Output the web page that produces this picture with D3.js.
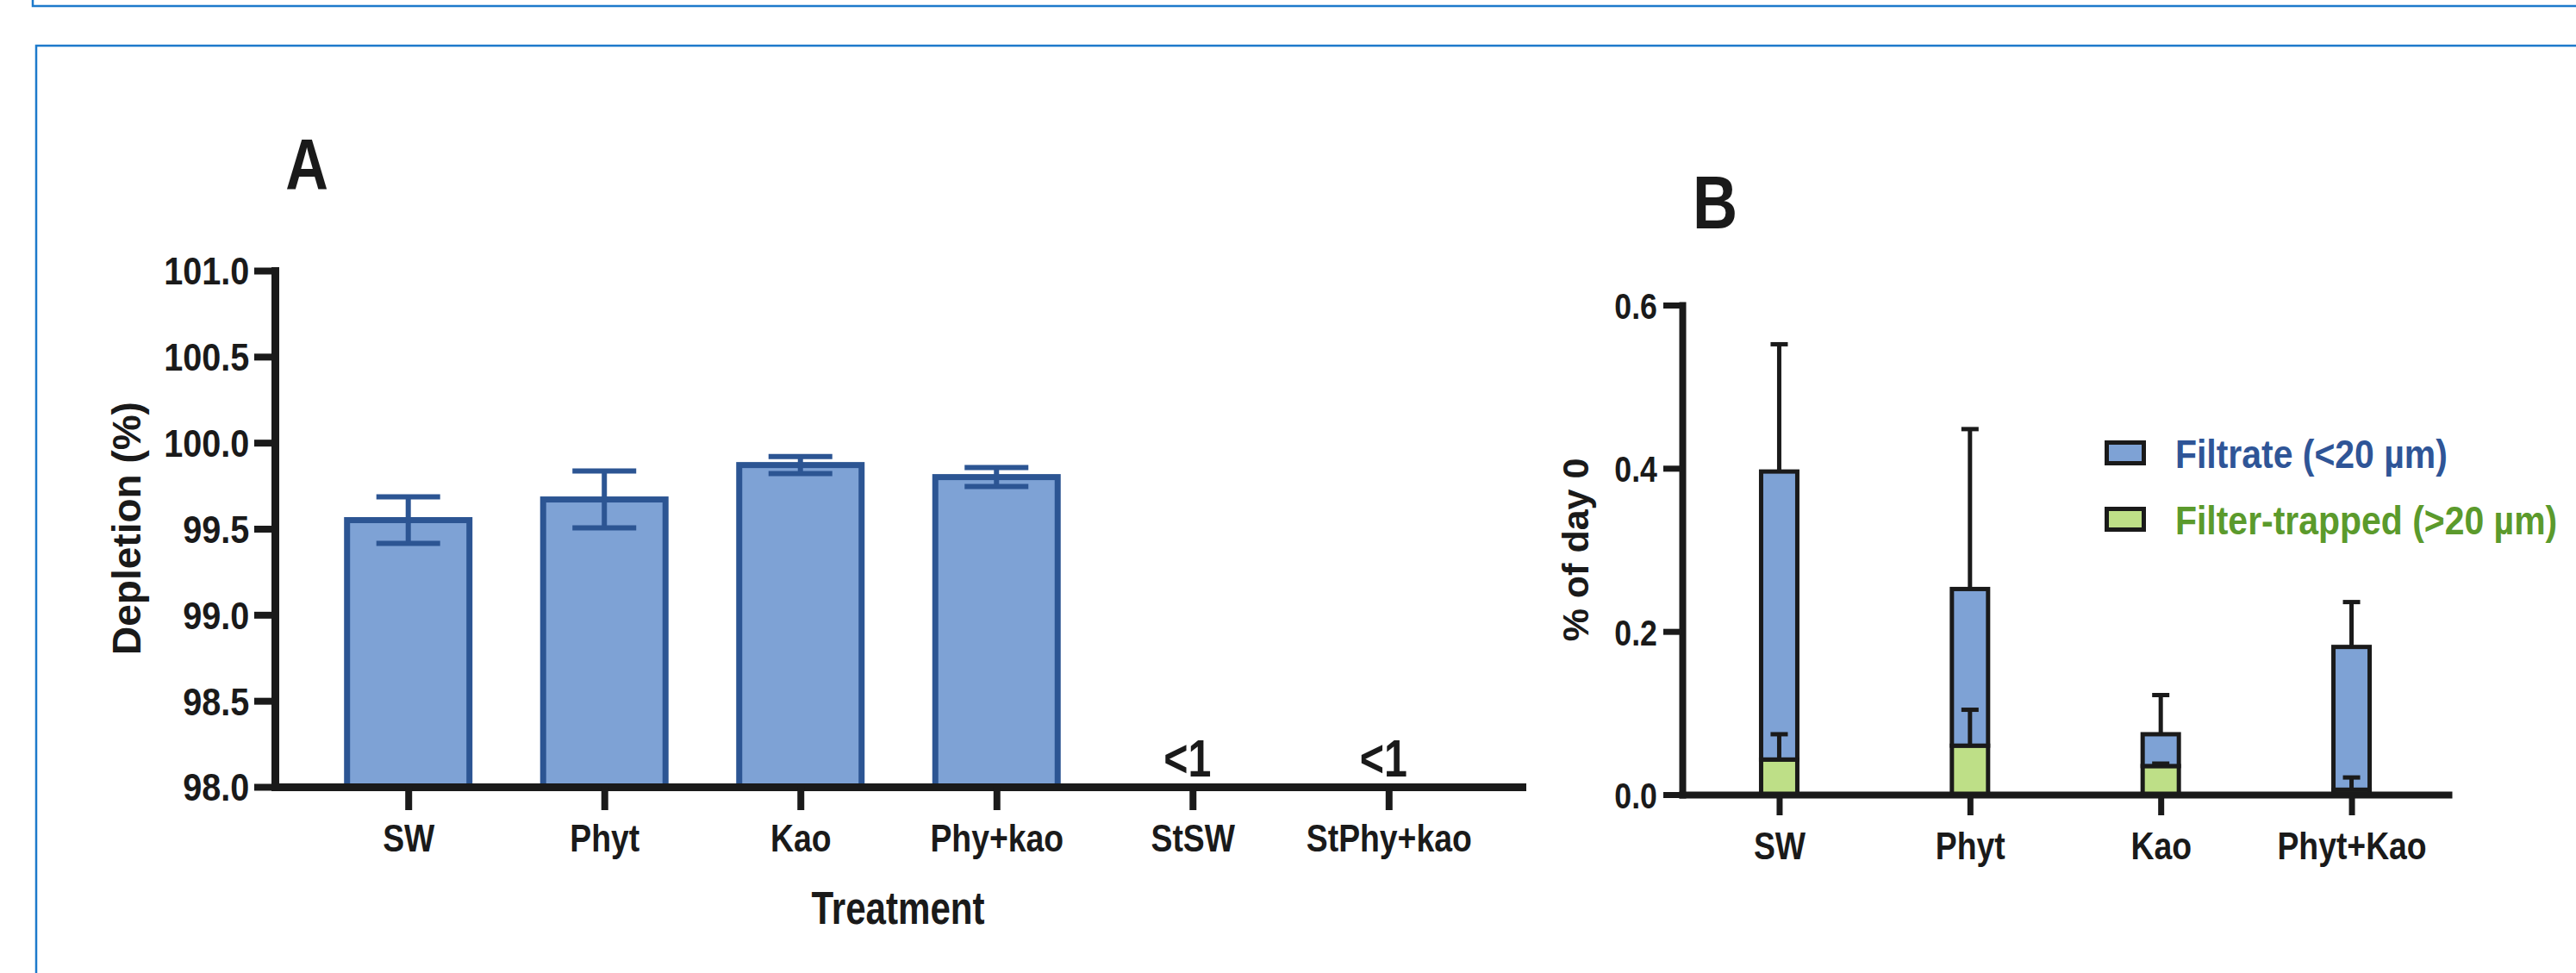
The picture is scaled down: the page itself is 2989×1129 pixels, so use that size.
<!DOCTYPE html>
<meta charset="utf-8">
<style>
    body {
        margin: 0;
        background: #fff;
    }

    svg {
        display: block;
        font-family: "Liberation Sans", Arial, sans-serif;
        font-weight: bold;
    }

    .frame {
        fill: none;
        stroke: #1d7acb;
        stroke-width: 2.5;
    }

    .axis path,
    .axis line {
        stroke: #1a1a1a;
    }

    .axis text,
    .label {
        fill: #1a1a1a;
    }
</style>

<body>
    <script src="https://d3js.org/d3.v7.min.js"></script>
    <script>
        // Panel A: depletion per treatment
        var treatA = ["SW", "Phyt", "Kao", "Phy+kao", "StSW", "StPhy+kao"];
        var depletion = [99.55, 99.67, 99.87, 99.80, null, null];
        var depletionSD = [0.135, 0.165, 0.05, 0.055, null, null];
        var belowLimit = ["", "", "", "", "<1", "<1"];
        var ticksA = [98.0, 98.5, 99.0, 99.5, 100.0, 100.5, 101.0];

        // Panel B: % of day 0, stacked
        var treatB = ["SW", "Phyt", "Kao", "Phyt+Kao"];
        var filterTrapped = [0.043, 0.060, 0.035, 0.006];
        var filterTrappedSD = [0.031, 0.044, 0.003, 0.015];
        var filtrate = [0.353, 0.192, 0.039, 0.175];
        var filtrateSD = [0.156, 0.196, 0.048, 0.055];
        var ticksB = [0.0, 0.2, 0.4, 0.6];
        var seriesB = ["Filtrate (<20 µm)", "Filter-trapped (>20 µm)"];

        var blueFill = "#7ea2d5",
            greenFill = "#bedf87",
            navy = "#2c5593",
            ink = "#1a1a1a";

        var svg = d3.select("body").append("svg")
            .attr("width", 2989)
            .attr("height", 1129);

        // blue frame lines
        svg.append("path").attr("class", "frame")
            .attr("d", "M38,0V7H2989");
        svg.append("path").attr("class", "frame")
            .attr("d", "M42,1129V53H2989");

        /* ---------------- */
        /* Panel A          */
        /* ---------------- */
        var xA = d3.scalePoint().domain(treatA).range([319, 1766]).padding(0.68);
        var yA = d3.scaleLinear().domain([98, 101]).range([913, 314]);
        var barWA = 142;

        var rowsA = treatA.map(function (t, i) {
            return { name: t, v: depletion[i], sd: depletionSD[i], note: belowLimit[i] };
        });

        var gA = svg.append("g");

        gA.selectAll("rect.bar")
            .data(rowsA.filter(d => d.v != null))
            .enter().append("rect")
            .attr("class", "bar")
            .attr("x", d => xA(d.name) - barWA / 2)
            .attr("width", barWA)
            .attr("y", d => yA(d.v))
            .attr("height", d => yA(98) - yA(d.v))
            .attr("fill", blueFill)
            .attr("stroke", navy)
            .attr("stroke-width", 7);

        var errA = gA.selectAll("g.err")
            .data(rowsA.filter(d => d.v != null))
            .enter().append("g")
            .attr("stroke", navy)
            .attr("stroke-width", 6);
        errA.append("line")
            .attr("x1", d => xA(d.name)).attr("x2", d => xA(d.name))
            .attr("y1", d => yA(d.v - d.sd)).attr("y2", d => yA(d.v + d.sd));
        errA.append("line")
            .attr("x1", d => xA(d.name) - 37).attr("x2", d => xA(d.name) + 37)
            .attr("y1", d => yA(d.v + d.sd)).attr("y2", d => yA(d.v + d.sd));
        errA.append("line")
            .attr("x1", d => xA(d.name) - 37).attr("x2", d => xA(d.name) + 37)
            .attr("y1", d => yA(d.v - d.sd)).attr("y2", d => yA(d.v - d.sd));

        // "<1" notes
        gA.selectAll("text.note")
            .data(rowsA.filter(d => d.note))
            .enter().append("text")
            .attr("class", "label")
            .attr("text-anchor", "middle")
            .attr("font-size", 62)
            .attr("transform", d => "translate(" + (xA(d.name) - 6) + ",901) scale(0.78,1)")
            .text(d => d.note);

        // axes A
        var yAxisA = gA.append("g").attr("class", "axis")
            .attr("transform", "translate(319,0)")
            .call(d3.axisLeft(yA).tickValues(ticksA).tickSize(24).tickSizeOuter(0)
                .tickFormat(d3.format(".1f")));
        var xAxisA = gA.append("g").attr("class", "axis")
            .attr("transform", "translate(0,913)")
            .call(d3.axisBottom(xA).tickSize(27).tickSizeOuter(0));

        [yAxisA, xAxisA].forEach(function (ax) {
            ax.attr("font-size", null).attr("font-family", null);
            ax.select(".domain").attr("stroke-width", 9).attr("stroke-linecap", "square");
            ax.selectAll(".tick line").attr("stroke-width", 8);
        });
        yAxisA.selectAll(".tick text")
            .attr("font-size", 44).attr("x", -33).attr("dy", "0.36em")
            .attr("transform", "scale(0.9,1)");
        xAxisA.selectAll(".tick text")
            .attr("font-size", 45).attr("y", 75).attr("dy", 0)
            .attr("transform", "scale(0.83,1)");

        gA.append("text").attr("class", "label")
            .attr("text-anchor", "middle").attr("font-size", 84)
            .attr("transform", "translate(356,220) scale(0.82,1)")
            .text("A");
        gA.append("text").attr("class", "label")
            .attr("text-anchor", "middle").attr("font-size", 54)
            .attr("transform", "translate(1042,1072) scale(0.78,1)")
            .text("Treatment");
        gA.append("text").attr("class", "label")
            .attr("text-anchor", "middle").attr("font-size", 46)
            .attr("transform", "translate(163,613) rotate(-90)")
            .text("Depletion (%)");

        /* ---------------- */
        /* Panel B          */
        /* ---------------- */
        var xB = d3.scalePoint().domain(treatB).range([1952, 2841]).padding(0.508);
        var yB = d3.scaleLinear().domain([0, 0.6]).range([922, 354]);
        var barWB = 42;

        var rowsB = treatB.map(function (t, i) {
            return {
                name: t,
                g: filterTrapped[i], gsd: filterTrappedSD[i],
                f: filtrate[i], fsd: filtrateSD[i]
            };
        });

        var gB = svg.append("g");
        var barB = gB.selectAll("g.stack")
            .data(rowsB)
            .enter().append("g");

        // filter-trapped at the bottom, filtrate stacked on top
        barB.append("rect")
            .attr("x", d => xB(d.name) - barWB / 2)
            .attr("width", barWB)
            .attr("y", d => yB(d.g))
            .attr("height", d => yB(0) - yB(d.g))
            .attr("fill", greenFill).attr("stroke", ink).attr("stroke-width", 5);
        barB.append("rect")
            .attr("x", d => xB(d.name) - barWB / 2)
            .attr("width", barWB)
            .attr("y", d => yB(d.g + d.f))
            .attr("height", d => yB(d.g) - yB(d.g + d.f))
            .attr("fill", blueFill).attr("stroke", ink).attr("stroke-width", 5);

        function errUp(sel, base, sd) {
            var e = sel.append("g").attr("stroke", ink).attr("stroke-width", 5);
            e.append("line")
                .attr("x1", d => xB(d.name)).attr("x2", d => xB(d.name))
                .attr("y1", d => yB(base(d))).attr("y2", d => yB(base(d) + sd(d)));
            e.append("line")
                .attr("x1", d => xB(d.name) - 10).attr("x2", d => xB(d.name) + 10)
                .attr("y1", d => yB(base(d) + sd(d))).attr("y2", d => yB(base(d) + sd(d)));
        }
        errUp(barB, d => d.g + d.f, d => d.fsd);
        errUp(barB, d => d.g, d => d.gsd);

        var yAxisB = gB.append("g").attr("class", "axis")
            .attr("transform", "translate(1952,0)")
            .call(d3.axisLeft(yB).tickValues(ticksB).tickSize(22).tickSizeOuter(0)
                .tickFormat(d3.format(".1f")));
        var xAxisB = gB.append("g").attr("class", "axis")
            .attr("transform", "translate(0,922)")
            .call(d3.axisBottom(xB).tickSize(24).tickSizeOuter(0));

        [yAxisB, xAxisB].forEach(function (ax) {
            ax.attr("font-size", null).attr("font-family", null);
            ax.select(".domain").attr("stroke-width", 8).attr("stroke-linecap", "square");
            ax.selectAll(".tick line").attr("stroke-width", 7);
        });
        yAxisB.selectAll(".tick text")
            .attr("font-size", 43).attr("x", -35).attr("dy", "0.36em")
            .attr("transform", "scale(0.83,1)");
        xAxisB.selectAll(".tick text")
            .attr("font-size", 45).attr("y", 75).attr("dy", 0)
            .attr("transform", "scale(0.83,1)");

        gB.append("text").attr("class", "label")
            .attr("text-anchor", "middle").attr("font-size", 88)
            .attr("transform", "translate(1990,265) scale(0.82,1)")
            .text("B");
        gB.append("text").attr("class", "label")
            .attr("text-anchor", "middle").attr("font-size", 43)
            .attr("transform", "translate(1843,638) rotate(-90)")
            .text("% of day 0");

        // legend
        var legendFill = [blueFill, greenFill];
        var legendText = ["#2f5597", "#5b9a2c"];
        var leg = gB.selectAll("g.legend")
            .data(seriesB)
            .enter().append("g")
            .attr("transform", (d, i) => "translate(2442," + (511 + i * 77) + ")");
        leg.append("rect")
            .attr("x", 2.5).attr("y", 2.5).attr("width", 43).attr("height", 24)
            .attr("fill", (d, i) => legendFill[i])
            .attr("stroke", ink).attr("stroke-width", 5);
        leg.append("text")
            .attr("font-size", 46)
            .attr("fill", (d, i) => legendText[i])
            .attr("transform", "translate(82,32) scale(0.89,1)")
            .text(d => d);
    </script>
</body>
